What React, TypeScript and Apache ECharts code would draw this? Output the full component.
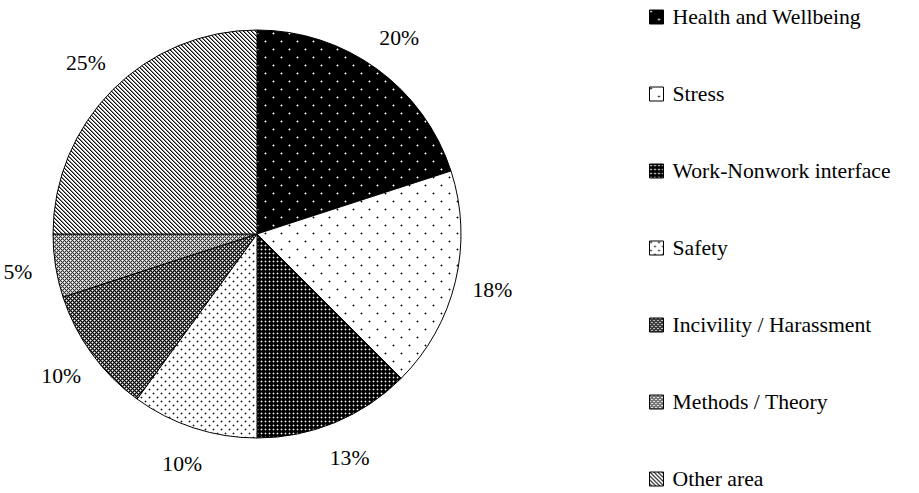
import React, { useEffect, useRef } from "react";
import * as echarts from "echarts";

// Research areas, clockwise from 12 o'clock
const categories = [
  "Health and Wellbeing",
  "Stress",
  "Work-Nonwork interface",
  "Safety",
  "Incivility / Harassment",
  "Methods / Theory",
  "Other area",
];

// Number of studies per area
const studyCounts = [8, 7, 5, 4, 4, 2, 10];

const WIDTH = 919;
const HEIGHT = 493;
const CX = 257;
const CY = 234;
const RADIUS = 204;
const LABEL_R = 242;
const FONT = "Liberation Serif";
const FONT_SIZE = 21.7;

type Px = [number, number, string];

// A soft dot: bright/dark core with a half-tone cross around it
function dot(x: number, y: number, core: string, edge: string, size: number): Px[] {
  const w = (v: number) => ((v % size) + size) % size;
  return [
    [w(x), w(y), core],
    [w(x - 1), w(y), edge],
    [w(x + 1), w(y), edge],
    [w(x), w(y - 1), edge],
    [w(x), w(y + 1), edge],
  ];
}

function makeTile(size: number, bg: string, pixels: Px[]) {
  const c = document.createElement("canvas");
  c.width = size;
  c.height = size;
  const ctx = c.getContext("2d")!;
  ctx.fillStyle = bg;
  ctx.fillRect(0, 0, size, size);
  for (const [x, y, col] of pixels) {
    ctx.fillStyle = col;
    ctx.fillRect(x, y, 1, 1);
  }
  return {
    image: c.toDataURL(),
    repeat: "repeat",
    imageWidth: size,
    imageHeight: size,
  };
}

// Diagonal cross-hatch on a 4px tile: lines, diamond centres, diamond fill
function crossHatch(line: string, centre: string, fill: string): Px[] {
  const px: Px[] = [];
  for (let y = 0; y < 4; y++) {
    for (let x = 0; x < 4; x++) {
      const onLine = (x - y + 4) % 4 === 0 || (x + y) % 4 === 0;
      const isCentre = (x === 2 && y === 0) || (x === 0 && y === 2);
      px.push([x, y, onLine ? line : isCentre ? centre : fill]);
    }
  }
  return px;
}

function buildPatterns() {
  const health = makeTile(16, "#000", [
    ...dot(1, 1, "#fff", "#777", 16),
    ...dot(9, 9, "#fff", "#777", 16),
  ]);
  const stress = makeTile(16, "#fff", [
    ...dot(1, 1, "#000", "#999", 16),
    ...dot(9, 9, "#000", "#999", 16),
  ]);
  const work = makeTile(4, "#000", dot(1, 1, "#fff", "#555", 4));
  const safety = makeTile(8, "#fff", [
    ...dot(1, 1, "#111", "#aaa", 8),
    ...dot(5, 5, "#111", "#aaa", 8),
  ]);
  const incivility = makeTile(4, "#000", crossHatch("#000", "#fff", "#777"));
  const methods = makeTile(4, "#fff", crossHatch("#333", "#fff", "#bbb"));
  const otherPx: Px[] = [];
  for (let y = 0; y < 4; y++) {
    for (let x = 0; x < 4; x++) {
      const k = (((x - y) % 4) + 4) % 4;
      if (k === 0) otherPx.push([x, y, "#111"]);
      else if (k === 1) otherPx.push([x, y, "#888"]);
    }
  }
  const other = makeTile(4, "#fff", otherPx);
  return [health, stress, work, safety, incivility, methods, other];
}

export default function App() {
  const ref = useRef<HTMLDivElement>(null);

  useEffect(() => {
    document.body.style.margin = "0";
    if (!ref.current) return;
    const chart = echarts.init(ref.current, null, { renderer: "svg" });
    const patterns = buildPatterns();

    const total = studyCounts.reduce((a, b) => a + b, 0);
    const midAngles = studyCounts.map((v, i) => {
      const before = studyCounts.slice(0, i).reduce((a, b) => a + b, 0);
      return ((before + v / 2) / total) * Math.PI * 2;
    });

    chart.setOption({
      animation: false,
      backgroundColor: "#fff",
      legend: {
        orient: "vertical",
        left: 649,
        top: 6,
        padding: 0,
        itemWidth: 14,
        itemHeight: 14,
        itemGap: 55,
        icon: "rect",
        selectedMode: false,
        itemStyle: { borderColor: "#000", borderWidth: 1 },
        textStyle: {
          fontFamily: FONT,
          fontSize: FONT_SIZE,
          lineHeight: 22,
          color: "#000",
          padding: [0, 0, 0, 4],
        },
        data: categories,
      },
      series: [
        {
          type: "pie",
          center: [CX, CY],
          radius: RADIUS,
          startAngle: 90,
          clockwise: true,
          avoidLabelOverlap: false,
          emphasis: { disabled: true },
          itemStyle: { borderColor: "#000", borderWidth: 1 },
          label: {
            show: true,
            position: "outside",
            fontFamily: FONT,
            fontSize: FONT_SIZE,
            color: "#000",
            formatter: (p: any) => `${Math.round(p.percent)}%`,
          },
          labelLine: { show: false },
          labelLayout: (p: any) => {
            const a = midAngles[p.dataIndex];
            return {
              x: CX + LABEL_R * Math.sin(a),
              y: CY - LABEL_R * Math.cos(a),
              align: "center",
              verticalAlign: "middle",
            };
          },
          data: categories.map((name, i) => ({
            name,
            value: studyCounts[i],
            itemStyle: { color: patterns[i] },
          })),
        },
      ],
    });

    return () => chart.dispose();
  }, []);

  return <div ref={ref} style={{ width: WIDTH, height: HEIGHT }} />;
}
